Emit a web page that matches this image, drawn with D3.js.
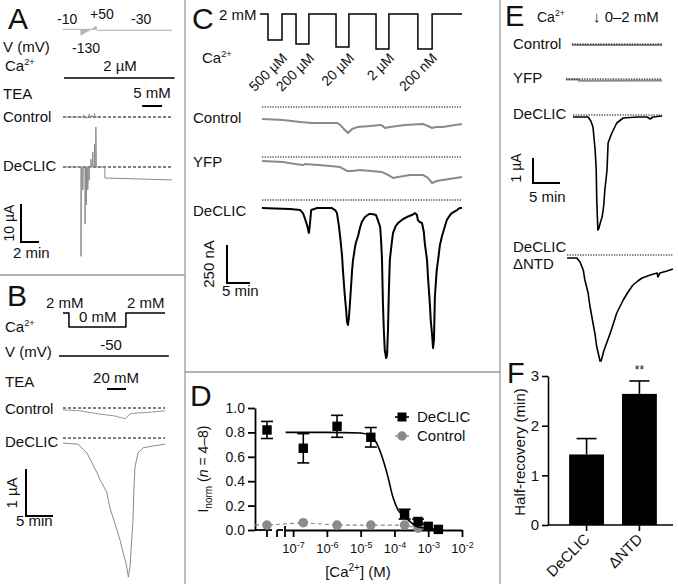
<!DOCTYPE html>
<html><head><meta charset="utf-8">
<script src="https://cdn.jsdelivr.net/npm/d3@7"></script>
<style>
body{margin:0;background:#fff;}
svg text{font-family:"Liberation Sans",Arial,Helvetica,sans-serif;fill:#111;}
</style></head><body>
<svg id="fig" width="678" height="584"></svg>
<script>
// ================= DATA =================
// Panel A (time: min, current: µA, voltage: mV)
const aVoltTimes = [2.0,2.18,2.36,2.54,2.72,2.9,3.08,3.26,3.44,3.62];
const aVoltSteps = [-130,-110,-90,-70,-50,-30,-10,10,30,50];
const aDeclicSpikeT = [2.0,2.2,2.45,2.6,2.75,2.9,3.1,3.3,3.5,3.65];
const aDeclicSpikeI = [-23.5,-6,-15,-10,-6,-3.5,2,4,6,10.5];
const aDeclicTail = [[3.7,0],[4.65,0],[4.66,-2.9],[12.1,-3.4]];
const aCtrlSpikeT = [2.3,2.6,2.9,3.2,3.5];
const aCtrlSpikeI = [0.6,-0.4,0.8,0.5,1.0];
const aTeaWindow = [8.8,11.0];

// Panel B (time: min, current: µA, Ca: mM)
const bCaT  = [0,1.1,1.1,11.65,11.65,18.9];
const bCaMM = [2,2,0,0,2,2];
const bTeaWindow = [8.15,11.67];
const bCtrl = [[0,-0.04],[3.15,-0.06],[6.85,-0.13],[9.6,-0.17],[11.5,-0.23],[11.85,-0.19],[12.4,-0.13],[13.3,-0.11],[16.1,-0.09],[18.9,-0.06]];
const bDeclic = [[0,-0.11],[2.78,-0.13],[4.44,-0.32],[6.3,-0.74],[6.85,-0.89],[7.41,-1.0],[8.15,-1.17],[8.33,-1.28],[8.7,-1.49],[10.0,-1.96],[10.56,-2.17],[11.11,-2.43],[11.67,-2.66],[12.04,-2.91],[12.1,-2.96],[12.41,-2.74],[12.96,-1.74],[13.15,-1.04],[13.33,-0.62],[13.89,-0.32],[14.81,-0.21],[16.67,-0.17],[18.89,-0.13]];

// Panel C (time: min, current: nA, Ca: M)
const cPulseStart = [1.3,7.4,16.1,24.8,33.9];
const cPulseEnd   = [4.35,10.2,18.9,27.6,37.0];
const cPulseConc  = [5e-4,2e-4,2e-5,2e-6,2e-7];
const cPulseLabel = ["500 µM","200 µM","20 µM","2 µM","200 nM"];
const cCaHigh = 2e-3;
const cCtrl = [[0,-79],[4.6,-86],[8.3,-99],[10.9,-105],[13.7,-105],[16.3,-105],[17.0,-118],[18.0,-151],[18.7,-171],[19.6,-145],[20.7,-132],[23.5,-125],[25.7,-118],[26.3,-125],[26.7,-138],[27.8,-132],[31.1,-118],[35.0,-112],[36.1,-125],[37.0,-138],[37.8,-132],[39.3,-132],[42.0,-118],[43.5,-112]];
const cYfp = [[0,-26],[4.6,-33],[7.2,-46],[8.9,-53],[9.3,-46],[12.2,-53],[14.8,-59],[17.0,-66],[18.5,-92],[19.6,-92],[21.3,-86],[26.1,-99],[27.4,-118],[28.5,-138],[29.6,-132],[32.2,-118],[35.0,-118],[36.1,-138],[37.0,-171],[38.0,-158],[39.3,-151],[43.5,-132]];
const cDeclic = [[0,-53],[2.8,-56],[6.1,-59],[8.3,-66],[8.9,-86],[9.3,-118],[9.8,-165],[10.2,-217],[10.4,-165],[10.7,-66],[12.0,-53],[15.2,-53],[15.9,-66],[16.3,-86],[16.7,-165],[17.0,-243],[17.4,-362],[17.6,-461],[18.0,-625],[18.3,-724],[18.5,-803],[18.7,-822],[18.9,-776],[19.1,-691],[19.6,-461],[19.8,-395],[20.2,-316],[20.4,-283],[20.9,-237],[21.3,-184],[21.7,-145],[22.4,-112],[23.3,-92],[23.9,-92],[24.8,-99],[25.2,-132],[25.7,-178],[25.9,-263],[26.1,-395],[26.3,-678],[26.5,-855],[26.7,-987],[27.0,-1040],[27.2,-1020],[27.4,-855],[27.6,-592],[27.8,-395],[28.3,-263],[28.5,-217],[29.1,-171],[29.6,-151],[30.7,-125],[31.5,-112],[32.6,-99],[33.3,-86],[33.7,-99],[33.9,-132],[34.3,-145],[34.8,-151],[35.2,-211],[35.4,-283],[35.9,-395],[36.1,-507],[36.5,-678],[36.7,-790],[37.0,-888],[37.2,-974],[37.4,-921],[37.6,-638],[38.0,-461],[38.3,-395],[38.7,-296],[39.1,-243],[39.8,-171],[40.2,-132],[40.9,-99],[41.3,-86],[42.4,-66],[43.0,-53],[43.5,-53]];

// Panel D (Ca in M; 0 = Ca-free point on broken axis)
const dConc = [0,2e-7,2e-6,2e-5,2e-4,5e-4,1e-3,2e-3];
const dDeclic = [0.82,0.67,0.85,0.76,0.13,0.07,0.03,0.005];
const dDeclicErr = [0.07,0.12,0.09,0.08,0.04,0.02,0.01,0.005];
const dCtrlConc = [0,2e-7,2e-6,2e-5,2e-4,5e-4];
const dCtrl = [0.04,0.06,0.04,0.04,0.04,0.015];
const dFitConc = [6e-8,1e-6,1e-5,2e-5,3e-5,4.3e-5,6.5e-5,9e-5,1.3e-4,2e-4,3e-4,5e-4,1.3e-3,2e-3];
const dFitVal  = [0.80,0.80,0.795,0.77,0.71,0.60,0.43,0.27,0.16,0.11,0.065,0.025,0.01,0.005];
const dXTicks = [1e-7,1e-6,1e-5,1e-4,1e-3,1e-2];
const dYTicks = [0,0.2,0.4,0.6,0.8,1.0];

// Panel E (time: min, current: µA)
const eCtrl = [[-0.2,-0.04],[16.5,-0.04]];
const eYfp = [[-1.3,-0.02],[1.0,-0.02],[1.1,-0.07],[16.5,-0.06]];
const eDeclic = [[0,-0.08],[2.8,-0.08],[3.3,-0.24],[3.7,-0.48],[4.1,-1.4],[4.3,-2.2],[4.4,-3.4],[4.6,-4.6],[4.8,-4.52],[5.2,-4.2],[5.4,-4.08],[5.7,-3.6],[5.9,-3.0],[6.3,-2.2],[6.5,-1.12],[6.9,-0.88],[7.2,-0.72],[8.1,-0.32],[9.3,-0.12],[11.9,-0.08],[13.7,-0.08],[14.3,-0.16],[14.8,-0.08],[16.5,-0.04]];
const eDntd = [[-1.1,-0.12],[0.7,-0.12],[1.3,-0.28],[1.9,-0.6],[2.2,-1.0],[2.8,-1.52],[3.1,-2.0],[3.7,-2.72],[4.1,-3.2],[4.4,-3.68],[4.8,-4.04],[5.0,-4.24],[5.2,-4.24],[5.4,-4.08],[5.7,-3.84],[6.3,-3.48],[6.9,-3.12],[7.4,-2.8],[8.1,-2.32],[9.3,-1.8],[10.2,-1.48],[11.1,-1.2],[12.0,-1.04],[12.8,-0.92],[14.3,-0.8],[15.6,-0.72],[15.7,-0.88],[16.1,-0.72],[17.4,-0.64],[18.5,-0.56]];

// Panel F
const fGroups = ["DeCLIC","ΔNTD"];
const fMean = [1.42,2.64];
const fSem = [0.32,0.26];
const fYTicks = [0,1,2,3];

// ================= DRAWING =================
const svg = d3.select("#fig");
const GRAY = "#8a8a8a";
function txt(x,y,s,size=15,anchor="start"){return svg.append("text").attr("x",x).attr("y",y).attr("font-size",size).attr("text-anchor",anchor).text(s);}
function ca(x,y,size=15){const t=svg.append("text").attr("x",x).attr("y",y).attr("font-size",size);t.append("tspan").text("Ca");t.append("tspan").attr("font-size",size*0.62).attr("dy",-size*0.42).text("2+");return t;}
function vtxt(x,y,s,size=15){return svg.append("text").attr("transform",`translate(${x},${y}) rotate(-90)`).attr("text-anchor","middle").attr("font-size",size).text(s);}
function hline(x1,x2,y,opt={}){return svg.append("line").attr("x1",x1).attr("x2",x2).attr("y1",y).attr("y2",y).attr("stroke",opt.c||"#000").attr("stroke-width",opt.w||1.5).attr("stroke-dasharray",opt.dash||null);}
function vline(x,y1,y2,opt={}){return svg.append("line").attr("x1",x).attr("x2",x).attr("y1",y1).attr("y2",y2).attr("stroke",opt.c||"#000").attr("stroke-width",opt.w||1.5);}
function path(data,line,c,w,g=svg){return g.append("path").datum(data).attr("d",line).attr("fill","none").attr("stroke",c).attr("stroke-width",w).attr("stroke-linejoin","round");}

// dividers
vline(185,0,584,{c:"#9a9a9a",w:1.3});
vline(500,0,584,{c:"#9a9a9a",w:1.3});
hline(0,185,275,{c:"#9a9a9a",w:1.3});
hline(185,500,372,{c:"#9a9a9a",w:1.3});

// ---------- Panel A ----------
{
  const x = d3.scaleLinear().domain([0,12]).range([63,171]);
  const y = d3.scaleLinear().domain([0,-10]).range([0,38]);
  const yV = d3.scaleLinear().domain([-130,50]).range([35,26.5]);
  txt(8,29,"A",30);
  txt(57,24,"-10",14); txt(90,19,"+50",14); txt(131,24,"-30",14);
  txt(3,52,"V (mV)",15); txt(72,53,"-130",14);
  let vp=[[0,-10]];
  aVoltTimes.forEach((t,i)=>{vp.push([t,-10],[t,aVoltSteps[i]],[t+0.07,aVoltSteps[i]],[t+0.07,-10]);});
  vp.push([3.8,-30],[12.1,-30]);
  path(vp,d3.line().x(d=>x(d[0])).y(d=>yV(d[1])),"#aaa",1);
  ca(5,71); txt(120,71,"2 µM",15,"middle");
  hline(x(0.1),x(12.4),78,{w:1.5});
  txt(3,99,"TEA",15); txt(152,98,"5 mM",15,"middle");
  hline(x(aTeaWindow[0]),x(aTeaWindow[1]),106,{w:2});
  const line = d3.line().x(d=>x(d[0])).y(d=>y(d[1]));
  txt(3,122,"Control",15);
  hline(x(0),x(12.1),117,{w:1,dash:"3,2"});
  const gc = svg.append("g").attr("transform","translate(0,117)");
  let cp=[[0,0]]; aCtrlSpikeT.forEach((t,i)=>cp.push([t,0],[t,aCtrlSpikeI[i]],[t+0.05,0])); cp.push([4,0]);
  path(cp,line,GRAY,0.8,gc);
  txt(3,171,"DeCLIC",15);
  hline(x(0),x(12.1),167,{w:1,dash:"3,2"});
  const gd = svg.append("g").attr("transform","translate(0,167)");
  let dp=[[0,0]]; aDeclicSpikeT.forEach((t,i)=>dp.push([t,0],[t,aDeclicSpikeI[i]],[t+0.04,0])); dp=dp.concat(aDeclicTail);
  path(dp,line,GRAY,1,gd);
  const sy=242, sx=21;
  svg.append("path").attr("d",`M${sx},${sy-y(-10)}V${sy}H${sx+x(2)-x(0)}`).attr("fill","none").attr("stroke","#000").attr("stroke-width",2);
  vtxt(14,223,"10 µA",14); txt(13,258,"2 min",15);
}

// ---------- Panel B ----------
{
  const x = d3.scaleLinear().domain([0,19]).range([63,63+19*5.4]);
  const y = d3.scaleLinear().domain([0,-1]).range([0,47]);
  const yCa = d3.scaleLinear().domain([0,2]).range([327,313]);
  txt(7,306,"B",30);
  txt(46,308,"2 mM",15); txt(79,322,"0 mM",15); txt(127,308,"2 mM",15);
  path(bCaT.map((t,i)=>[t,bCaMM[i]]),d3.line().x(d=>x(d[0])).y(d=>yCa(d[1])),"#000",1.5);
  ca(5,332);
  txt(5,357,"V (mV)",15); txt(111,350,"-50",15,"middle");
  hline(x(-0.75),x(19.6),356,{w:1.5});
  txt(5,387,"TEA",15); txt(116,383,"20 mM",15,"middle");
  hline(x(bTeaWindow[0]),x(bTeaWindow[1]),389,{w:2});
  const line = d3.line().x(d=>x(d[0])).y(d=>y(d[1]));
  txt(5,414,"Control",15);
  hline(x(0),x(18.9),408,{w:1,dash:"3,2"});
  path(bCtrl,line,GRAY,0.9,svg.append("g").attr("transform","translate(0,408)"));
  txt(5,447,"DeCLIC",15);
  hline(x(0),x(18.9),438,{w:1,dash:"3,2"});
  path(bDeclic,line,GRAY,1,svg.append("g").attr("transform","translate(0,438)"));
  const sx=26, sy=516;
  svg.append("path").attr("d",`M${sx},${sy-y(-1)}V${sy}H${sx+x(5)-x(0)}`).attr("fill","none").attr("stroke","#000").attr("stroke-width",2);
  vtxt(17,493,"1 µA",15); txt(16,526,"5 min",15);
}

// ---------- Panel C ----------
{
  const x = d3.scaleLinear().domain([0,43.5]).range([262,462]);
  const y = d3.scaleLinear().domain([0,-250]).range([0,38]);
  const yCa = d3.scaleOrdinal().domain([2e-3,5e-4,2e-4,2e-5,2e-6,2e-7]).range([14,40,44,47,49,49]);
  txt(192,29,"C",30);
  txt(219,20,"2 mM",15);
  let w=[[-0.45,cCaHigh]];
  cPulseStart.forEach((s,i)=>{w.push([s,cCaHigh],[s,cPulseConc[i]],[cPulseEnd[i],cPulseConc[i]],[cPulseEnd[i],cCaHigh]);});
  w.push([43.5,cCaHigh]);
  path(w,d3.line().x(d=>x(d[0])).y(d=>yCa(d[1])),"#000",1.5).attr("stroke-linejoin","miter");
  ca(202,63);
  cPulseEnd.forEach((e,i)=>{
    svg.append("text").attr("transform",`translate(${x(e)+6},59) rotate(-45)`).attr("text-anchor","end").attr("font-size",14).text(cPulseLabel[i]);
  });
  const line = d3.line().x(d=>x(d[0])).y(d=>y(d[1]));
  const rows=[["Control",107,123,cCtrl,GRAY],["YFP",157,167,cYfp,GRAY],["DeCLIC",200,216,cDeclic,"#000"]];
  rows.forEach(([lab,base,ly,data,col])=>{
    txt(193,ly,lab,15);
    hline(x(0),x(43.5),base,{w:1.1,dash:"1.3,1.3"});
    path(data,line,col,2,svg.append("g").attr("transform",`translate(0,${base})`));
  });
  const sx=227, sy=283;
  svg.append("path").attr("d",`M${sx},${sy-y(-250)}V${sy}H${sx+x(5)-x(0)}`).attr("fill","none").attr("stroke","#000").attr("stroke-width",2);
  vtxt(214,264,"250 nA",15); txt(222,296,"5 min",15);
}

// ---------- Panel D ----------
{
  txt(190,406,"D",30);
  const y = d3.scaleLinear().domain([0,1]).range([530,408]);
  const xl = d3.scaleLog().domain([Math.pow(10,-7.24),1e-2]).range([285,462]);
  const zeroX = 267;
  const X = c => c===0 ? zeroX : xl(c);
  const gy = svg.append("g").attr("transform","translate(255,0)")
    .call(d3.axisLeft(y).tickValues(dYTicks).tickFormat(d3.format(".1f")).tickSize(7).tickPadding(3).tickSizeOuter(0));
  gy.selectAll("text").attr("font-size",14).attr("fill","#111");
  gy.selectAll("path,line").attr("stroke","#000").attr("stroke-width",1.8);
  const gx = svg.append("g").attr("transform","translate(0,530)")
    .call(d3.axisBottom(xl).tickValues(dXTicks).tickFormat("").tickSize(7).tickSizeOuter(0));
  gx.selectAll("path,line").attr("stroke","#000").attr("stroke-width",1.8);
  gx.selectAll(".tick").each(function(d){
    const t=d3.select(this).append("text").attr("y",23).attr("text-anchor","middle").attr("font-size",13).attr("fill","#111");
    t.append("tspan").text("10");
    t.append("tspan").attr("dy",-5).attr("font-size",9).text(String(Math.round(Math.log10(d))));
  });
  hline(255,272,530,{w:1.8}); vline(zeroX,530,537,{w:1.8}); vline(277,530,537,{w:1.8}); hline(277,283,530,{w:1.8}); vline(285,526,537,{w:1.8});
  const xt=svg.append("text").attr("x",358).attr("y",577).attr("text-anchor","middle").attr("font-size",15);
  xt.append("tspan").text("[Ca");xt.append("tspan").attr("font-size",10).attr("dy",-6).text("2+");xt.append("tspan").attr("dy",6).text("] (M)");
  const yt=svg.append("text").attr("transform","translate(208,469) rotate(-90)").attr("text-anchor","middle").attr("font-size",14);
  yt.append("tspan").text("I");yt.append("tspan").attr("font-size",10).attr("dy",4).text("norm");
  yt.append("tspan").attr("dy",-4).text(" (");yt.append("tspan").attr("font-style","italic").text("n");yt.append("tspan").text(" = 4–8)");
  path([[255,y(dCtrl[0])]].concat(dCtrlConc.map((c,i)=>[X(c),y(dCtrl[i])])),d3.line(),"#8a8a8a",1.2).attr("stroke-dasharray","4,3");
  svg.selectAll(".cc").data(dCtrlConc).enter().append("circle").attr("cx",d=>X(d)).attr("cy",(d,i)=>y(dCtrl[i])).attr("r",4.8).attr("fill","#8a8a8a");
  path(dFitConc.map((c,i)=>[xl(c),y(dFitVal[i])]),d3.line().curve(d3.curveMonotoneX),"#000",1.6);
  dConc.forEach((c,i)=>{
    const cx=X(c), lo=y(dDeclic[i]-dDeclicErr[i]), hi=y(dDeclic[i]+dDeclicErr[i]);
    if(dDeclicErr[i]>0.015){
      vline(cx,hi,lo,{w:1.6}); hline(cx-6,cx+6,hi,{w:1.6}); hline(cx-6,cx+6,lo,{w:1.6});
    }
    svg.append("rect").attr("x",cx-4.7).attr("y",y(dDeclic[i])-4.7).attr("width",9.4).attr("height",9.4).attr("fill","#000");
  });
  hline(395,409,417,{w:1.6}); svg.append("rect").attr("x",397.5).attr("y",412.5).attr("width",9).attr("height",9).attr("fill","#000");
  txt(417,422,"DeCLIC",15);
  hline(395,409,436,{w:1.4,c:"#8a8a8a"}); svg.append("circle").attr("cx",402).attr("cy",436).attr("r",4.7).attr("fill","#8a8a8a");
  txt(417,441,"Control",15);
}

// ---------- Panel E ----------
{
  const x = d3.scaleLinear().domain([0,16.5]).range([573,573+16.5*5.4]);
  const y = d3.scaleLinear().domain([0,-1]).range([0,25]);
  txt(505,26,"E",29);
  ca(537,22,14); txt(593,22,"↓ 0–2 mM",15);
  const line = d3.line().x(d=>x(d[0])).y(d=>y(d[1]));
  const rows=[["Control",44,49,eCtrl,GRAY,2,-0.2,16.5],["YFP",79,83,eYfp,GRAY,2,-1.3,16.4],["DeCLIC",115,119,eDeclic,"#000",1.6,0,16.5]];
  rows.forEach(([lab,base,ly,data,col,wd,t0,t1])=>{
    txt(513,ly,lab,15);
    path(data,line,col,wd,svg.append("g").attr("transform",`translate(0,${base})`));
    hline(x(t0),x(t1),base,{w:1.1,dash:"1.3,1.3"});
  });
  txt(513,252,"DeCLIC",15); txt(513,269,"ΔNTD",15);
  hline(x(-1.1),x(18.5),255,{w:1.1,dash:"1.3,1.3"});
  path(eDntd,line,"#000",1.6,svg.append("g").attr("transform","translate(0,255)"));
  const sx=533, sy=183;
  svg.append("path").attr("d",`M${sx},${sy-y(-1)}V${sy}H${sx+x(5)-x(0)}`).attr("fill","none").attr("stroke","#000").attr("stroke-width",2);
  vtxt(521,168,"1 µA",14); txt(529,202,"5 min",15);
}

// ---------- Panel F ----------
{
  txt(507,383,"F",29);
  const y = d3.scaleLinear().domain([0,3]).range([525,376]);
  const x = d3.scaleBand().domain(fGroups).range([548,678]).paddingInner(0.34).paddingOuter(0.4);
  const gy = svg.append("g").attr("transform","translate(548,0)")
    .call(d3.axisLeft(y).tickValues(fYTicks).tickFormat(d3.format("d")).tickSize(6).tickPadding(3).tickSizeOuter(0));
  gy.selectAll("text").attr("font-size",15).attr("fill","#111");
  gy.selectAll("path,line").attr("stroke","#000").attr("stroke-width",1.6);
  fGroups.forEach((g,i)=>{
    const cx=x(g)+x.bandwidth()/2;
    vline(cx,y(fMean[i]+fSem[i]),y(fMean[i]),{w:1.6});
    hline(cx-10,cx+10,y(fMean[i]+fSem[i]),{w:1.6});
  });
  svg.selectAll(".fb").data(fGroups).enter().append("rect")
    .attr("x",d=>x(d)).attr("width",x.bandwidth()).attr("y",(d,i)=>y(fMean[i])).attr("height",(d,i)=>y(0)-y(fMean[i])).attr("fill","#000");
  const gx = svg.append("g").attr("transform","translate(0,525)")
    .call(d3.axisBottom(x).tickSize(6).tickSizeOuter(0).tickFormat(""));
  gx.select(".domain").attr("d","M548,0H673");
  gx.selectAll("path,line").attr("stroke","#000").attr("stroke-width",1.6);
  fGroups.forEach(g=>{
    svg.append("text").attr("transform",`translate(${x(g)+x.bandwidth()/2+4},${540}) rotate(-45)`).attr("text-anchor","end").attr("font-size",15).text(g);
  });
  txt(x("ΔNTD")+x.bandwidth()/2,374,"**",12,"middle");
  vtxt(525,452,"Half-recovery (min)",15);
}
</script></body></html>
